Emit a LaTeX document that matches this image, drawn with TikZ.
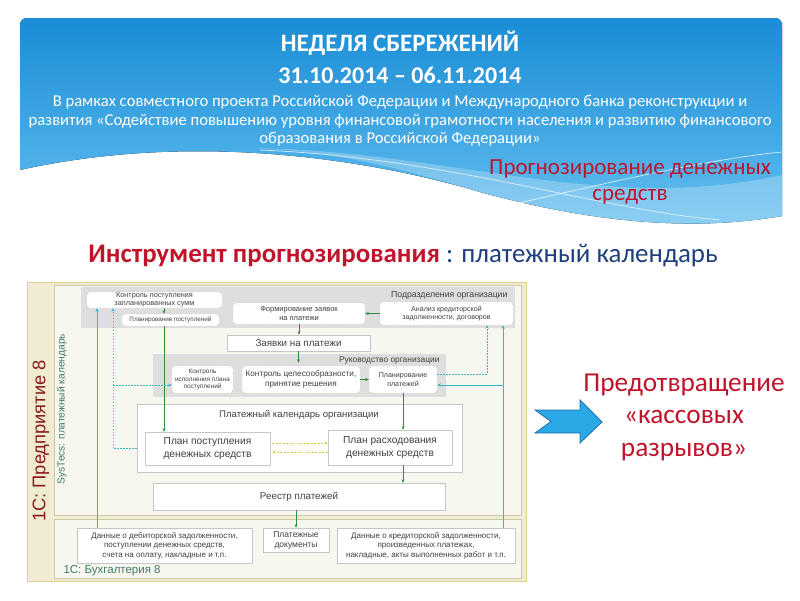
\documentclass[tikz,border=0pt]{standalone}
\usepackage{fontspec}
\setmainfont{Carlito}
\newfontfamily\dgf{Liberation Sans}
\usetikzlibrary{arrows.meta,shadows,calc}
\newcommand\fsz[2]{\fontsize{#1}{#2}\selectfont}
\newcommand\dsz[2]{\dgf\fontsize{#1}{#2}\selectfont}
\definecolor{hbtop}{HTML}{1A8DD6}
\definecolor{hbbot}{HTML}{66C0F0}
\definecolor{redtxt}{HTML}{C0142B}
\definecolor{bluetxt}{HTML}{1F3F7F}
\definecolor{beige}{HTML}{EFECD2}
\definecolor{beigeline}{HTML}{DCD48E}
\definecolor{panel}{HTML}{F7F6EF}
\definecolor{panelline}{HTML}{CFC7A8}
\definecolor{regiongray}{HTML}{DEDEDE}
\definecolor{boxred}{HTML}{D4A0A0}
\definecolor{boxgray}{HTML}{C6C6C6}
\definecolor{dtxt}{HTML}{404040}
\definecolor{garrc}{HTML}{2F8F3F}
\definecolor{cyanc}{HTML}{35B8C4}
\definecolor{yelc}{HTML}{C9CF3A}
\definecolor{arrfill}{HTML}{2AA9E6}
\definecolor{arrline}{HTML}{1E6FB0}
\definecolor{predc}{HTML}{8B1A1A}
\definecolor{systc}{HTML}{3F7C68}
\begin{document}
\begin{tikzpicture}[x=1pt,y=-1pt,
  region/.style={fill=regiongray, inner sep=0},
  rbox/.style={draw=boxred, densely dotted, fill=white, rounded corners=3, inner sep=0, align=center, text=dtxt},
  wbox/.style={draw=boxgray, fill=white, inner sep=0, align=center, text=dtxt,
     drop shadow={shadow xshift=1pt, shadow yshift=-1pt, opacity=0.25, fill=black}},
  tip/.style={-{Stealth[length=3.5pt,width=3pt]}},
  garr/.style={tip, draw=garrc, line width=0.9pt},
  carr/.style={tip, draw=cyanc, line width=1pt},
  cdarr/.style={tip, draw=cyanc, line width=1pt, dash pattern=on 1.5pt off 1.5pt},
  yarr/.style={tip, draw=yelc, line width=0.8pt, dash pattern=on 2pt off 1.5pt}]
\useasboundingbox (0,0) rectangle (800,600);
\fill[white] (0,0) rectangle (800,600);
% header banner
\fill[top color=hbtop, bottom color=hbbot] (20,170) [rounded corners=7] -- (20,18) -- (782,18) [sharp corners] -- (782,216)
   .. controls (690,232) and (590,222) .. (480,192) .. controls (380,162) and (200,130) .. (20,170) -- cycle;
\fill[white, opacity=0.25] (250,148) .. controls (450,150) and (600,215) .. (782,175) -- (782,216)
   .. controls (690,232) and (590,222) .. (480,192) .. controls (400,168) and (330,150) .. (250,148) -- cycle;
\draw[white, opacity=0.7, line width=0.8pt] (260,150) .. controls (450,158) and (600,210) .. (720,220);
\draw[white, opacity=0.7, line width=0.8pt] (470,214) .. controls (600,185) and (700,160) .. (782,152);
\node[text=white, font=\bfseries\fsz{25}{29}] (title) at (400,43) {НЕДЕЛЯ СБЕРЕЖЕНИЙ};
\node[text=white, font=\bfseries\fsz{24}{28}] (date) at (400,75) {31.10.2014 – 06.11.2014};
\node[text=white, align=center, font=\fsz{16.6}{18.5}] (sub) at (400,121) {В рамках совместного проекта Российской Федерации и Международного банка реконструкции и\\развития «Содействие повышению уровня финансовой грамотности населения и развитию финансового\\образования в Российской Федерации»};
\node[text=redtxt, align=center, font=\fsz{23}{26}] (prog) at (630,182) {Прогнозирование денежных\\средств};
\node[font=\fsz{26.9}{30}] (instr) at (403,256) {\textcolor{redtxt}{\bfseries Инструмент прогнозирования} \textcolor{bluetxt}{: платежный календарь}};
% right arrow and text
\filldraw[fill=arrfill, draw=arrline, line width=0.8pt] (535,410) -- (580,410) -- (580,400) -- (602,422) -- (580,443) -- (580,433) -- (535,433) -- (551,421.5) -- cycle;
\node[text=redtxt, align=center, font=\fsz{27.3}{32.5}] (pred) at (684,417) {Предотвращение\\«кассовых\\разрывов»};
% diagram frames
\node[fill=beige, draw=beigeline, line width=1pt, minimum width=499, minimum height=299, inner sep=0] (outer) at (276.5,431.5) {};
\node[fill=panel, draw=panelline, minimum width=467, minimum height=230, inner sep=0] (inner) at (287.5,400) {};
\node[fill=panel, draw=panelline, minimum width=467, minimum height=59, inner sep=0] (bottom) at (287.5,548.5) {};
\node[rotate=90, text=predc, font=\dsz{18.3}{20}] (ent) at (41,441) {1С: Предприятие 8};
\node[rotate=90, text=systc, font=\dsz{10.2}{11}] (syst) at (62,409) {SysTecs: платежный календарь};
\node[anchor=west, text=systc, font=\dsz{11.5}{13}] (buh) at (60,571) {1С: Бухгалтерия 8};
% regions
\node[region, minimum width=434, minimum height=41] (dept) at (298,307.5) {};
\node[anchor=east, text=dtxt, font=\dsz{8.7}{10}] (deptlbl) at (511,295.5) {Подразделения организации};
\node[region, minimum width=293, minimum height=43] (rukov) at (299.5,375.5) {};
\node[anchor=east, text=dtxt, font=\dsz{8.4}{10}] (rukovlbl) at (443,360) {Руководство организации};
\node[wbox, minimum width=325, minimum height=68] (cal) at (299.5,438) {};
\node[text=dtxt, font=\dsz{9.6}{11}] (callbl) at (299,415) {Платежный календарь организации};
% boxes
\node[rbox, minimum width=135, minimum height=16, font=\dsz{7.3}{7.6}] (kpz) at (154.5,300) {Контроль поступления\\запланированных сумм};
\node[rbox, minimum width=97, minimum height=12, font=\dsz{6.3}{7}] (pp) at (170.5,320) {Планирование поступлений};
\node[rbox, minimum width=132, minimum height=21, font=\dsz{7.5}{8.6}] (fz) at (299,313.5) {Формирование заявок\\на платежи};
\node[rbox, minimum width=133, minimum height=23, font=\dsz{7.1}{8.5}] (an) at (446.5,313.5) {Анализ кредиторской\\задолженности, договоров};
\node[wbox, minimum width=143, minimum height=16, font=\dsz{9.8}{11}] (zp) at (298.5,343) {Заявки на платежи};
\node[rbox, minimum width=61, minimum height=27, font=\dsz{6.4}{7.4}] (ki) at (202.5,379.5) {Контроль\\исполнения плана\\поступлений};
\node[rbox, minimum width=118, minimum height=27, font=\dsz{8.2}{10}] (kc) at (301,379.5) {Контроль целесообразности,\\принятие решения};
\node[rbox, minimum width=68, minimum height=27, font=\dsz{7.1}{9}] (plp) at (403,379.5) {Планирование\\платежей};
\node[wbox, minimum width=125, minimum height=33, font=\dsz{10.2}{12.5}] (pin) at (207.5,448.5) {План поступления\\денежных средств};
\node[wbox, minimum width=124, minimum height=35, font=\dsz{10.2}{12.5}] (pout) at (390,447.5) {План расходования\\денежных средств};
\node[wbox, minimum width=292, minimum height=27, font=\dsz{9.8}{11}] (reestr) at (299,496.5) {Реестр платежей};
\node[wbox, minimum width=175, minimum height=35, font=\dsz{8}{9.6}] (deb) at (164.5,545.5) {Данные о дебиторской задолженности,\\поступлении денежных средств,\\счета на оплату, накладные и т.п.};
\node[wbox, minimum width=66, minimum height=24, font=\dsz{8.5}{10}] (pdoc) at (296,540) {Платежные\\документы};
\node[wbox, minimum width=178, minimum height=35, font=\dsz{8}{9.6}] (kred) at (426,545.5) {Данные о кредиторской задолженности,\\произведенных платежах,\\накладные, акты выполненных работ и т.п.};
% helper coordinates
\coordinate (xg1) at (164,0);
\coordinate (xc1) at (97,0);
\coordinate (xc2) at (113,0);
\coordinate (xc3) at (503,0);
\coordinate (xc4) at (487,0);
\coordinate (yr1) at (0,385);
\coordinate (yr2) at (0,374);
\coordinate (yy1) at (0,443);
\coordinate (yy2) at (0,452);
% green connectors
\draw[garr] (kpz.south -| xg1) -- (pp.north -| xg1);
\draw[garr] (pp.south -| xg1) -- (pin.north -| xg1);
\draw[garr] (an.west) -- (fz.east);
\draw[garr] (fz.south) -- (fz.south |- zp.north);
\draw[garr] (zp.south) -- ([yshift=3pt]zp.south |- kc.north);
\draw[garr] (kc.east) -- (plp.west);
\draw[garr] (plp.south) -- (plp.south |- pout.north);
\draw[garr] (plp.south |- pout.south) -- (plp.south |- reestr.north);
\draw[garr] (pdoc.north |- reestr.south) -- (pdoc.north);
% cyan connectors
\draw[carr] (deb.north -| xc1) -- (kpz.south -| xc1);
\draw[cdarr] (cal.west |- pin) -- (xc2 |- pin) -- (kpz.south -| xc2);
\draw[cdarr] (xc2 |- yr1) -- (ki.west |- yr1);
\draw[carr] (kred.north -| xc3) -- (an.south -| xc3);
\draw[carr] (xc3 |- yr1) -- (plp.east |- yr1);
\draw[cdarr] (plp.east |- yr2) -- (xc4 |- yr2) -- (an.south -| xc4);
% yellow dashed
\draw[yarr] ([xshift=2pt]pin.east |- yy1) -- (pout.west |- yy1);
\draw[yarr] (pout.west |- yy2) -- ([xshift=2pt]pin.east |- yy2);
\end{tikzpicture}
\end{document}
